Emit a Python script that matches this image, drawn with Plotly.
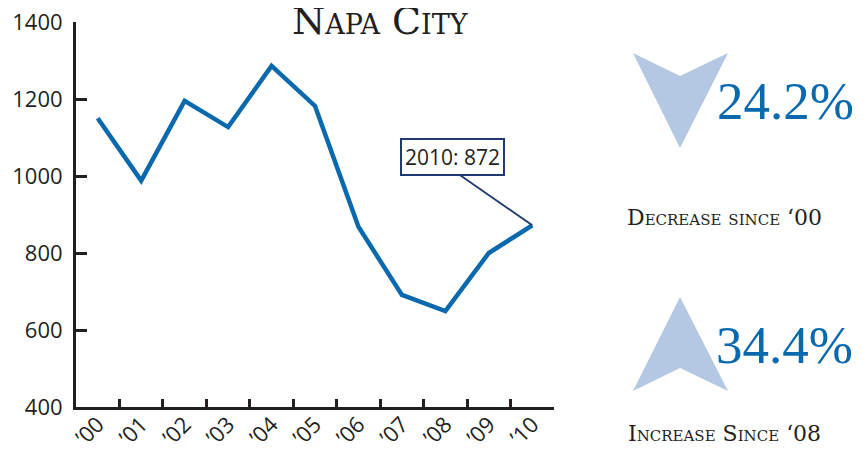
import plotly.graph_objects as go

years = ["’00", "’01", "’02", "’03", "’04", "’05", "’06", "’07", "’08", "’09", "’10"]
values = [1150, 988, 1195, 1127, 1286, 1182, 868, 691, 649, 800, 872]
y_ticks = [400, 600, 800, 1000, 1200, 1400]
title_text = "Napa City"
callout_text = "2010: 872"
stat1_value = "24.2%"
stat1_label = "Decrease since ‘00"
stat2_value = "34.4%"
stat2_label = "Increase Since ‘08"

LINE = "#0a69ae"
DARK = "#231f20"
ARROW = "#b4c7e3"
NAVY = "#1f3a6e"

OFF = 8  # page body margin
W, H = 865 - OFF, 450 - OFF
L, R, T, B = 76 - OFF, 865 - 554, 22 - OFF, 450 - 407
pw = W - L - R
ph = H - T - B

def px(x):
    return (x - OFF - L) / pw

def py(y):
    return (H - B - (y - OFF)) / ph

fig = go.Figure()
fig.add_trace(go.Scatter(x=years, y=values, mode="lines",
                         line=dict(color=LINE, width=4.5), hoverinfo="skip"))

def poly(pts):
    d = "M " + " L ".join(f"{px(a):.5f},{py(b):.5f}" for a, b in pts) + " Z"
    return dict(type="path", xref="paper", yref="paper", path=d,
                fillcolor=ARROW, line=dict(width=0), layer="above")

shapes = [
    poly([(633, 53), (680, 76), (728, 53), (680, 148)]),
    poly([(680, 297), (728, 391), (680, 368), (633, 391)]),
]

serif = "DejaVu Serif"
numserif = "Liberation Serif"
ann = [
    dict(x=px(380), y=py(21), xref="paper", yref="paper", text=title_text,
         showarrow=False, xanchor="center", yanchor="middle",
         font=dict(family=serif, size=38, color=DARK, variant="small-caps")),
    dict(x=px(785), y=py(101), xref="paper", yref="paper", text=stat1_value,
         showarrow=False, xanchor="center", yanchor="middle",
         font=dict(family=numserif, size=53, color=LINE)),
    dict(x=px(784), y=py(345), xref="paper", yref="paper", text=stat2_value,
         showarrow=False, xanchor="center", yanchor="middle",
         font=dict(family=numserif, size=53, color=LINE)),
    dict(x=px(724), y=py(218), xref="paper", yref="paper", text=stat1_label,
         showarrow=False, xanchor="center", yanchor="middle",
         font=dict(family=serif, size=22, color=DARK, variant="small-caps")),
    dict(x=px(724), y=py(434), xref="paper", yref="paper", text=stat2_label,
         showarrow=False, xanchor="center", yanchor="middle",
         font=dict(family=serif, size=22, color=DARK, variant="small-caps")),
    # leader line
    dict(x=years[-1], y=values[-1], xref="x", yref="y", text=" ",
         showarrow=True, arrowhead=0, arrowwidth=1.8, arrowcolor=NAVY,
         ax=-75, ay=-52, standoff=0, startstandoff=0,
         font=dict(size=1)),
    # callout box
    dict(x=years[-1], y=values[-1], xref="x", yref="y", text=callout_text,
         showarrow=False, xshift=-80, yshift=68,
         bordercolor=NAVY, borderwidth=2, borderpad=3, bgcolor="white",
         font=dict(family="Open Sans", size=21, color=DARK)),
]

fig.update_layout(
    width=W, height=H,
    margin=dict(l=L, r=R, t=T, b=B),
    paper_bgcolor="white", plot_bgcolor="white",
    showlegend=False,
    shapes=shapes, annotations=ann,
    font=dict(family="Open Sans", color=DARK),
)
fig.update_xaxes(type="category", range=[-0.5, 10.5], tickson="boundaries",
                 showline=True, linecolor=DARK, linewidth=3,
                 ticks="inside", ticklen=8, tickwidth=2.5, tickcolor=DARK,
                 tickangle=-45, tickfont=dict(size=22, color=DARK),
                 ticklabelstandoff=-7, ticklabeloverflow="allow",
                 showgrid=False, zeroline=False, automargin=False)
fig.update_yaxes(range=[400, 1400], tickvals=y_ticks,
                 showline=True, linecolor=DARK, linewidth=3,
                 ticks="inside", ticklen=11, tickwidth=3, tickcolor=DARK,
                 tickfont=dict(size=22, color=DARK), ticklabelstandoff=6,
                 ticklabeloverflow="allow",
                 showgrid=False, zeroline=False, automargin=False)

fig.write_html("out.html")
